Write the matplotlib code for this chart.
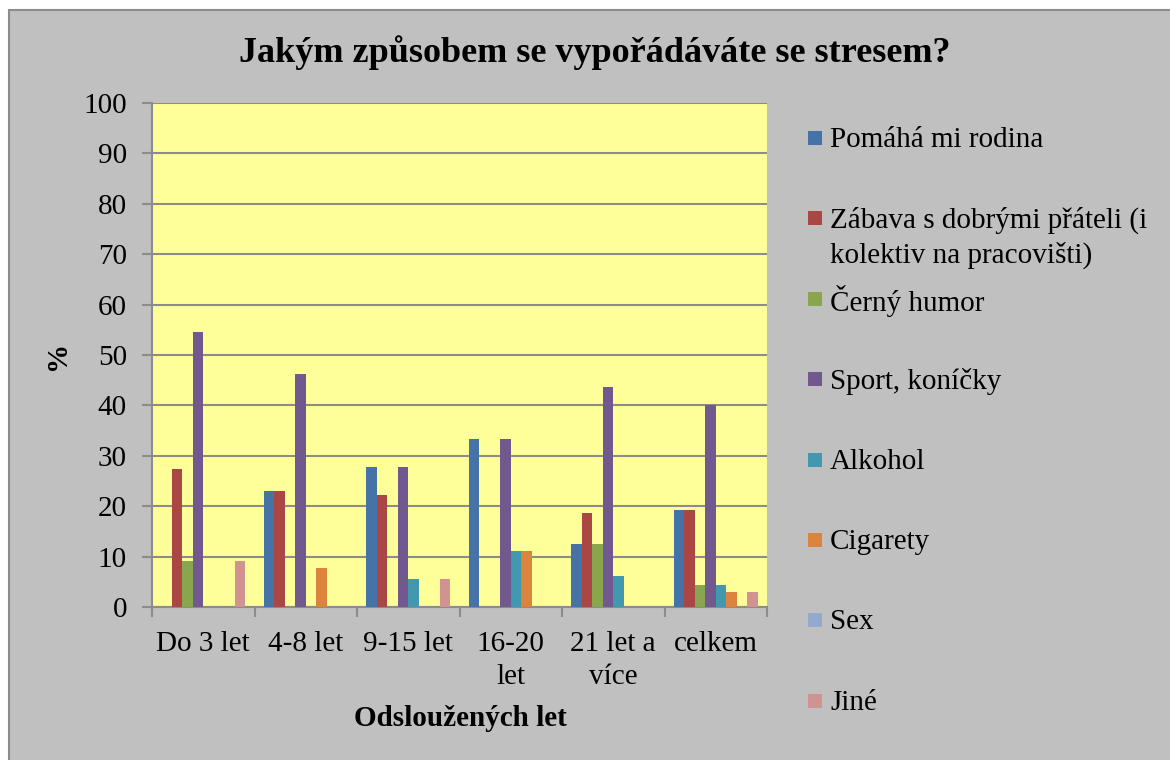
import numpy as np
import matplotlib
matplotlib.use("Agg")
import matplotlib.pyplot as plt
from matplotlib.patches import Rectangle

categories = ["Do 3 let", "4-8 let", "9-15 let", "16-20\nlet", "21 let a\nvíce", "celkem"]
series_names = [
    "Pomáhá mi rodina",
    "Zábava s dobrými přáteli (i\nkolektiv na pracovišti)",
    "Černý humor",
    "Sport, koníčky",
    "Alkohol",
    "Cigarety",
    "Sex",
    "Jiné",
]
pomaha = [0, 23.1, 27.8, 33.3, 12.5, 19.2]
zabava = [27.3, 23.1, 22.2, 0, 18.7, 19.2]
humor = [9.1, 0, 0, 0, 12.5, 4.3]
sport = [54.5, 46.2, 27.8, 33.3, 43.7, 40.0]
alkohol = [0, 0, 5.6, 11.1, 6.2, 4.3]
cigarety = [0, 7.7, 0, 11.1, 0, 2.9]
sex = [0, 0, 0, 0, 0, 0]
jine = [9.1, 0, 5.6, 0, 0, 2.9]

colors = ["#4572A7", "#AA4643", "#89A54E", "#71588F",
          "#4198AF", "#DB843D", "#93A9CF", "#D19392"]

plt.rcParams["font.family"] = ["Liberation Serif", "DejaVu Serif"]
FS = 21

W, H = 1170, 760
fig = plt.figure(figsize=(W / 100, H / 100), dpi=100)
fig.patch.set_facecolor("white")

# chart area (gray panel with border)
bg = Rectangle((9 / W, -0.1), 1.2, (H - 10) / H + 0.1, transform=fig.transFigure,
               facecolor="#C0C0C0", edgecolor="#8C8C8C", lw=1.5, zorder=-10)
fig.patches.append(bg)

ax = fig.add_axes([152 / W, (H - 607) / H, (767 - 152) / W, (607 - 103) / H])
ax.set_facecolor("#FFFF99")

data = [pomaha, zabava, humor, sport, alkohol, cigarety, sex, jine]
x = np.arange(len(categories))
n = len(data)
bw = 0.82 / n
for i, vals in enumerate(data):
    ax.bar(x - 0.41 + bw * (i + 0.5), vals, width=bw, color=colors[i], zorder=3)

ax.set_xlim(-0.5, len(categories) - 0.5)
ax.set_ylim(0, 100)
ax.set_yticks(range(0, 101, 10))
ax.yaxis.grid(True, color="#8C8C8C", lw=1.5, zorder=1)
ax.set_xticks(np.arange(-0.5, len(categories), 1))
ax.set_xticklabels([])
ax.set_xticks(x, minor=True)
ax.set_xticklabels(categories, minor=True, fontsize=FS, linespacing=1.38)
ax.tick_params(axis="x", which="minor", length=0, pad=17)
ax.tick_params(axis="x", which="major", length=7, color="#8C8C8C", width=1.5)
ax.tick_params(axis="y", length=7, color="#8C8C8C", width=1.5, labelsize=FS, pad=11)
for s in ["top", "right"]:
    ax.spines[s].set_visible(False)
for s in ["left", "bottom"]:
    ax.spines[s].set_color("#8C8C8C")
    ax.spines[s].set_linewidth(1.5)

fig.text(595 / W, 1 - 53 / H, "Jakým způsobem se vypořádáváte se stresem?",
         ha="center", va="center", fontsize=26, fontweight="bold")
fig.text(58 / W, 1 - 355 / H, "%", rotation=90, ha="center", va="center",
         fontsize=FS, fontweight="bold")
fig.text(460 / W, 1 - 718 / H, "Odsloužených let", ha="center", va="center",
         fontsize=FS, fontweight="bold")

# legend
for i, name in enumerate(series_names):
    yc = 138 + 80.4 * i
    fig.patches.append(Rectangle((808 / W, 1 - (yc + 7) / H), 14 / W, 14 / H,
                                 transform=fig.transFigure, facecolor=colors[i],
                                 edgecolor="none"))
    if "\n" in name:
        fig.text(830 / W, 1 - (yc - 12) / H, name, ha="left", va="top",
                 fontsize=FS, linespacing=1.4)
    else:
        fig.text(830 / W, 1 - (yc + 2) / H, name, ha="left", va="center", fontsize=FS)

fig.savefig("out.png", dpi=100)
